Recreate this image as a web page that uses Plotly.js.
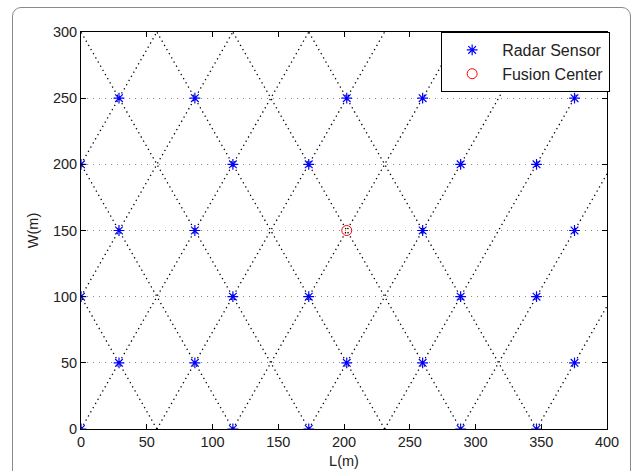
<!DOCTYPE html>
<html>
<head>
<meta charset="utf-8">
<script src="https://cdn.plot.ly/plotly-3.0.1.min.js"></script>
<style>
html,body{margin:0;padding:0;background:#fff;overflow:hidden;}
#wrap{position:relative;width:635px;height:471px;overflow:hidden;}
#frame{position:absolute;left:12px;top:7px;width:619px;height:520px;border:1px solid #8a8a8a;border-radius:9px;box-sizing:border-box;pointer-events:none;}
#chart{position:absolute;left:0;top:0;width:635px;height:471px;}
</style>
</head>
<body>
<div id="wrap">
<div id="frame"></div>
<div id="chart"></div>
</div>
<script>
// Radar sensor positions (L, W) in metres
const sensorL = [0,115.5,173.2,288.7,346.4,
                 28.9,86.6,202.1,259.8,375.3,
                 0,115.5,173.2,288.7,346.4,
                 28.9,86.6,259.8,375.3,
                 0,115.5,173.2,288.7,346.4,
                 28.9,86.6,202.1,259.8,375.3];
const sensorW = [0,0,0,0,0,
                 50,50,50,50,50,
                 100,100,100,100,100,
                 150,150,150,150,
                 200,200,200,200,200,
                 250,250,250,250,250];
// Fusion center
const fusionL = [202.1];
const fusionW = [150];
// Dotted lattice lines (start / end points)
const lineFromL = [0,0,0,57.7,115.5,173.2,230.9,288.7,346.4, 57.7,115.5,173.2,230.9,288.7,346.4];
const lineFromW = [200,100,0,0,0,0,0,0,0, 0,0,0,0,0,0];
const lineToL   = [57.7,115.5,173.2,230.9,288.7,346.4,400,400,400, 0,0,0,57.7,115.5,173.2];
const lineToW   = [300,300,300,300,300,300,292.9,192.8,92.8, 100,200,300,300,300,300];
// Axis ticks
const xTicks = [0,50,100,150,200,250,300,350,400];
const yTicks = [0,50,100,150,200,250,300];

const lx = [], ly = [];
for (let i = 0; i < lineFromL.length; i++) {
  lx.push(lineFromL[i], lineToL[i], null);
  ly.push(lineFromW[i], lineToW[i], null);
}

const font = {family: '"Liberation Sans", Arial, Helvetica, sans-serif', size: 14.5, color: '#222'};

const traces = [
  {x: lx, y: ly, type: 'scatter', mode: 'lines', showlegend: false, hoverinfo: 'skip',
   line: {color: '#000', width: 1.3, dash: '1.3px,3.5px'}},
  {x: sensorL, y: sensorW, type: 'scatter', mode: 'markers', name: 'Radar Sensor',
   marker: {symbol: 'asterisk-open', size: 9, color: '#0000ff', line: {color: '#0000ff', width: 1.2}}},
  {x: fusionL, y: fusionW, type: 'scatter', mode: 'markers', name: 'Fusion Center',
   marker: {symbol: 'circle-open', size: 10, color: '#ff0000', line: {color: '#ff0000', width: 1}}}
];

const layout = {
  width: 635, height: 471,
  margin: {l: 81, r: 28, t: 32, b: 42, pad: 0},
  paper_bgcolor: 'rgba(0,0,0,0)', plot_bgcolor: '#fff',
  font: font,
  showlegend: true,
  legend: {x: 1.006, y: 1, xanchor: 'right', yanchor: 'top', bgcolor: '#fff',
           bordercolor: '#000', borderwidth: 1, font: {family: font.family, size: 16, color: '#222'},
           itemwidth: 50},
  xaxis: {range: [0, 400], tickvals: xTicks, ticktext: xTicks.map(String), showgrid: false, zeroline: false,
          showline: true, linecolor: '#000', linewidth: 1, mirror: 'ticks', ticks: 'inside', ticklen: 5,
          tickcolor: '#000', tickfont: font,
          title: {text: 'L(m)', font: font, standoff: 6}},
  yaxis: {range: [0, 300], tickvals: yTicks, ticktext: yTicks.map(String), showgrid: true, gridcolor: '#8c8c8c',
          griddash: '1px,5px', gridwidth: 1, zeroline: false,
          showline: true, linecolor: '#000', linewidth: 1, mirror: 'ticks', ticks: 'inside', ticklen: 5,
          tickcolor: '#000', tickfont: font,
          title: {text: 'W(m)', font: font, standoff: 10}}
};

Plotly.newPlot('chart', traces, layout, {displayModeBar: false, staticPlot: true});
</script>
</body>
</html>
